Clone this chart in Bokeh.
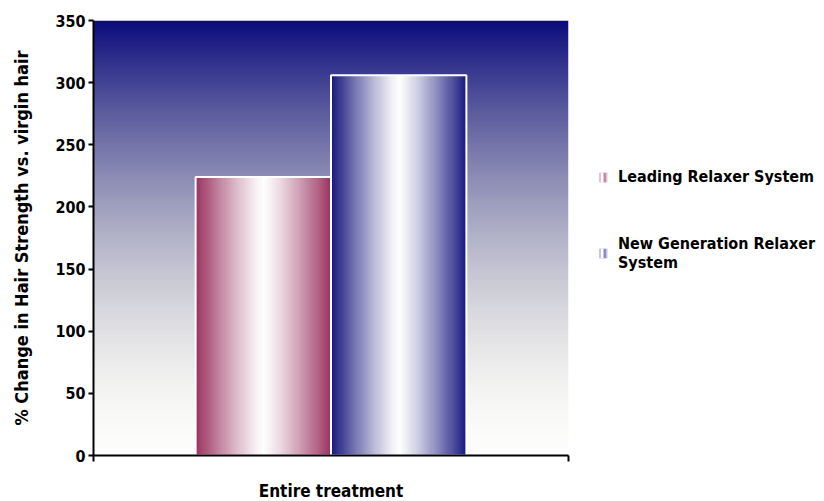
import numpy as np
from bokeh.plotting import figure
from bokeh.models import Range1d, FixedTicker, Legend, LegendItem
from bokeh.embed import file_html
from bokeh.resources import INLINE

# ---- data ----
categories = ["Entire treatment"]
series_names = ["Leading Relaxer System", "New Generation Relaxer\nSystem"]
series_values = [224, 306]
y_ticks = [0, 50, 100, 150, 200, 250, 300, 350]
y_title = "% Change in Hair Strength vs. virgin hair"

# ---- style ----
FONT = "DejaVu Sans Condensed"
edge_colors = [(156, 52, 98), (26, 26, 128)]
legend_colors = ["#c48aa4", "#8a8ac0"]
bar_w = 0.285


def rgba_image(rgb_rows):
    h, w, _ = rgb_rows.shape
    img = np.zeros((h, w), dtype=np.uint32)
    view = img.view(dtype=np.uint8).reshape((h, w, 4))
    view[:, :, 0:3] = np.clip(rgb_rows, 0, 255).astype(np.uint8)
    view[:, :, 3] = 255
    return img


p = figure(frame_width=475, frame_height=435, output_backend="svg", toolbar_location=None,
           x_range=Range1d(0, 1), y_range=Range1d(y_ticks[0], y_ticks[-1]),
           min_border_left=93, min_border_right=0, min_border_top=20,
           min_border_bottom=46)
p.background_fill_color = "white"
p.border_fill_color = "white"
p.outline_line_color = None
p.grid.visible = False

# background vertical gradient (white at bottom -> navy at top)
n = 256
t = np.linspace(0, 1, n)
top = np.array([12, 12, 125.0])
bot = np.array([253, 253, 253.0])
pw = np.array([1.7, 1.7, 1.3])
f = t[:, None] ** pw[None, :]
bg = bot[None, :] * (1 - f) + top[None, :] * f
p.image_rgba(image=[rgba_image(bg[:, None, :])], x=0, y=y_ticks[0],
             dw=1, dh=y_ticks[-1] - y_ticks[0])

# bars with horizontal cylinder gradient
lefts = [0.5 - bar_w, 0.5]
m = 128
u = np.linspace(0, 1, m)
d = np.abs(2 * u - 1) ** 1.2
white = np.array([255, 255, 255.0])
for left, val, ec in zip(lefts, series_values, edge_colors):
    c = np.array(ec, dtype=float)
    row = white[None, :] * (1 - d[:, None]) + c[None, :] * d[:, None]
    p.image_rgba(image=[rgba_image(row[None, :, :])], x=left, y=0, dw=bar_w, dh=val)

p.quad(left=lefts, right=[l + bar_w for l in lefts], bottom=0, top=series_values,
       fill_color=None, line_color="white", line_width=2)

# legend swatch renderers (zero-size, placed at each bar's centre)
rs = []
for left, val, col in zip(lefts, series_values, legend_colors):
    r = p.rect(x=[left + bar_w / 2], y=[val / 2], width=0, height=0,
               fill_color=col, line_color=None,
               hatch_pattern="vertical_line", hatch_color="white", hatch_weight=3,
               hatch_scale=6)
    rs.append(r)

legend = Legend(items=[LegendItem(label=s, renderers=[r]) for s, r in zip(series_names, rs)],
                location=(30, 183), margin=0, padding=0, spacing=48,
                glyph_width=10, glyph_height=12, label_standoff=10,
                label_text_font=FONT, label_text_font_style="bold",
                label_text_font_size="16px", label_text_color="black",
                border_line_color=None, background_fill_alpha=0)
p.add_layout(legend, "right")

# axes
for ax in (p.xaxis[0], p.yaxis[0]):
    ax.axis_line_color = "black"
    ax.axis_line_width = 2
    ax.major_tick_line_color = "black"
    ax.major_tick_line_width = 2
    ax.major_tick_in = 0
    ax.minor_tick_line_color = None
    ax.major_label_text_font = FONT
    ax.major_label_text_font_style = "bold"
    ax.major_label_text_font_size = "16px"
    ax.axis_label_text_font = FONT
    ax.axis_label_text_font_style = "bold"
    ax.axis_label_text_color = "black"
    ax.major_label_text_color = "black"

p.yaxis.ticker = FixedTicker(ticks=y_ticks)
p.yaxis.major_tick_out = 5
p.yaxis.major_label_standoff = 3
p.yaxis.axis_label = y_title
p.yaxis.axis_label_text_font_size = "18px"
p.yaxis.axis_label_standoff = 20

p.xaxis.ticker = FixedTicker(ticks=[0, 1])
p.xaxis.major_label_overrides = {0: "", 1: ""}
p.xaxis.major_tick_out = 6
p.xaxis.axis_label = categories[0]
p.xaxis.axis_label_text_font_size = "17px"
p.xaxis.axis_label_standoff = 19

open("out.html", "w").write(file_html(p, INLINE))
